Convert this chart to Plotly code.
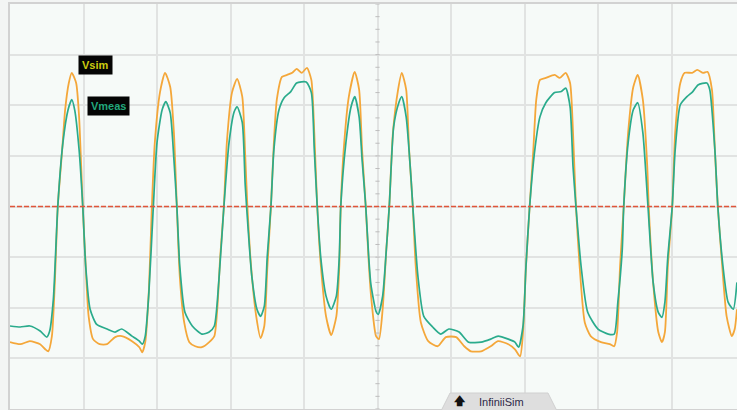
import plotly.graph_objects as go

# Simulated (Vsim) and measured (Vmeas) waveforms: time in ps, voltage in mV
time_ps_vsim = [
    0, 14, 27, 41, 48, 52, 57, 61, 65, 71, 75, 80, 84, 90, 94, 99, 103, 107, 113,
    122, 132, 143, 152, 166, 176, 180, 184, 189, 193, 197, 204, 211, 218, 223, 227,
    231, 237, 244, 252, 261, 271, 278, 282, 286, 291, 295, 302, 309, 316, 320, 323,
    328, 335, 341, 346, 350, 355, 359, 363, 370, 377, 384, 390, 397, 404, 410, 414,
    418, 423, 430, 437, 444, 448, 450, 454, 461, 469, 475, 479, 484, 488, 491, 498,
    502, 507, 512, 516, 521, 528, 533, 539, 543, 548, 552, 559, 569, 582, 593, 607,
    618, 627, 641, 654, 664, 678, 687, 694, 698, 702, 707, 712, 716, 721, 729, 741,
    748, 756, 762, 766, 770, 775, 782, 790, 804, 816, 822, 826, 830, 835, 841, 848,
    854, 861, 867, 869, 875, 882, 887, 891, 895, 901, 905, 912, 918, 928, 935, 943,
    949, 955, 959, 963, 969, 975, 982, 986, 989,
]
vsim_mv = [
    -268, -272, -266, -272, -282, -286, -256, -150, 0, 112, 191, 244, 264, 244, 177, 0, -118, -217, -262,
    -272, -272, -258, -256, -266, -278, -288, -268, -164, 0, 126, 225, 264, 236, 146, 0,
    -138, -229, -268, -276, -278, -268, -256, -203, -99, 0, 126, 225, 252, 217, 102, 0,
    -118, -217, -260, -236, -124, 0, 126, 211, 256, 260, 264, 272, 264, 274, 250, 146,
    0, -118, -217, -254, -217, -118, 0, 112, 217, 266, 231, 112, 0, -108, -173, -256,
    -262, -203, -85, 0, 146, 231, 264, 231, 112, 0, -118, -229, -266, -276, -258, -258,
    -276, -286, -286, -276, -266, -272, -282, -296, -248, -118, 0, 112, 211, 250, 254, 260,
    254, 264, 244, 146, 0, -118, -229, -256, -268, -272, -276, -248, -118, 0, 146, 236,
    260, 211, 79, 0, -150, -248, -268, -248, -118, 0, 146, 244, 264, 264, 270, 264,
    266, 231, 112, 0, -118, -217, -256, -242, -203,
]

time_ps_vmeas = [
    0, 14, 27, 41, 50, 54, 59, 65, 72, 79, 84, 88, 94, 99, 103, 109, 118, 132, 143,
    152, 166, 176, 180, 184, 189, 195, 200, 207, 212, 218, 223, 227, 231, 238, 248,
    261, 271, 278, 284, 291, 298, 305, 309, 316, 320, 324, 329, 336, 341, 346, 350,
    355, 359, 366, 373, 382, 390, 403, 410, 414, 418, 423, 430, 437, 444, 448, 450,
    457, 464, 469, 475, 479, 484, 488, 491, 498, 501, 507, 512, 516, 522, 529, 533,
    539, 546, 548, 555, 563, 575, 586, 597, 611, 624, 641, 654, 664, 678, 687, 692,
    698, 702, 707, 714, 721, 729, 741, 750, 756, 762, 766, 770, 777, 786, 800, 814,
    822, 827, 833, 835, 841, 848, 854, 861, 868, 875, 882, 887, 891, 895, 901, 905,
    912, 921, 929, 936, 948, 952, 959, 963, 970, 977, 984, 989,
]
vmeas_mv = [
    -236, -238, -236, -246, -258, -246, -183, 0, 126, 191, 211, 191, 112, 0, -118, -203, -233, -242, -248,
    -242, -256, -266, -272, -256, -169, 0, 126, 191, 207, 185, 93, 0, -118, -209, -236,
    -252, -248, -236, -150, 0, 126, 187, 197, 166, 43, -45, -138, -203, -217, -197, -99,
    0, 112, 191, 215, 227, 244, 246, 225, 112, 0, -104, -177, -203, -177, -99, 0,
    126, 197, 217, 177, 93, 0, -99, -154, -207, -213, -177, -85, 0, 158, 205, 217,
    177, 47, 0, -138, -217, -238, -252, -242, -248, -268, -268, -262, -256, -262, -268, -278,
    -236, -118, 0, 112, 177, 205, 225, 227, 234, 197, 79, 0, -118, -209, -242, -252,
    -252, -189, -85, 0, 126, 191, 205, 146, 0, -150, -209, -219, -189, -99, 0, 112,
    201, 217, 227, 240, 244, 231, 112, 0, -118, -189, -203, -150,
]

# Scope screen: 10 horizontal divisions of 100 ps, 8 vertical divisions of 100 mV
T_DIV = 100
V_DIV = 100
T_SPAN = 989.1
THRESHOLD_MV = 0
CENTER_PS = 500

fig = go.Figure()

fig.add_trace(go.Scatter(
    x=time_ps_vsim, y=vsim_mv, mode="lines", name="Vsim",
    line=dict(color="#f4a73a", width=1.8, shape="spline", smoothing=0.6),
))
fig.add_trace(go.Scatter(
    x=time_ps_vmeas, y=vmeas_mv, mode="lines", name="Vmeas",
    line=dict(color="#2aab8c", width=1.7, shape="spline", smoothing=0.6),
))

# Minor tick marks along the centre vertical graticule line
minor_y = [k * V_DIV / 4 for k in range(-16, 17)]
fig.add_trace(go.Scatter(
    x=[CENTER_PS] * len(minor_y), y=minor_y, mode="markers", hoverinfo="skip",
    marker=dict(symbol="line-ew", size=3, line=dict(color="#bdbdbd", width=1)),
))

# Threshold level
fig.add_shape(type="line", xref="paper", x0=0, x1=1, yref="y",
              y0=THRESHOLD_MV, y1=THRESHOLD_MV,
              line=dict(color="#e0553a", width=1.5, dash="5px,2px"))

# Trace labels
fig.add_annotation(text="<b>Vsim</b>", xref="paper", yref="paper",
                   x=0.0935, y=0.849, xanchor="left", yanchor="middle",
                   showarrow=False, bgcolor="#050505", borderpad=3,
                   font=dict(family="Liberation Sans", size=11, color="#cccc10"))
fig.add_annotation(text="<b>Vmeas</b>", xref="paper", yref="paper",
                   x=0.106, y=0.749, xanchor="left", yanchor="middle",
                   showarrow=False, bgcolor="#050505", borderpad=3,
                   font=dict(family="Liberation Sans", size=11, color="#22a77c"))

# InfiniiSim tab at the bottom edge
fig.add_shape(type="path", xref="paper", yref="paper",
              path="M 0.5915 -0.01 L 0.6053 0.0395 L 0.7400 0.0395 L 0.7538 -0.01 Z",
              fillcolor="#dedede", line=dict(color="#d0d0d0", width=1), layer="above")
fig.add_annotation(text="<b>🡅</b>", xref="paper", yref="paper",
                   x=0.619, y=0.018, xanchor="center", yanchor="middle",
                   showarrow=False,
                   font=dict(family="DejaVu Sans", size=11, color="#111111"))
fig.add_annotation(text="InfiniiSim", xref="paper", yref="paper",
                   x=0.643, y=0.018, xanchor="left", yanchor="middle",
                   showarrow=False,
                   font=dict(family="Liberation Sans", size=11, color="#2e2a48"))

fig.update_layout(
    width=737, height=410,
    margin=dict(l=10, r=0, t=4, b=1),
    paper_bgcolor="#f3f5f4",
    plot_bgcolor="#f6faf8",
    showlegend=False,
    xaxis=dict(range=[0, T_SPAN], dtick=T_DIV, tick0=0, showticklabels=False,
               ticks="", showgrid=True, gridcolor="#e1e3e2", gridwidth=2,
               zeroline=False, showline=True, mirror=True,
               linecolor="#d2d2d2", linewidth=2, fixedrange=True),
    yaxis=dict(range=[-4 * V_DIV, 4 * V_DIV], dtick=V_DIV, tick0=0,
               showticklabels=False, ticks="", showgrid=True,
               gridcolor="#e1e3e2", gridwidth=2, zeroline=False,
               showline=True, mirror=False, linecolor="#d2d2d2",
               linewidth=2, fixedrange=True),
)

fig.write_html("out.html")
